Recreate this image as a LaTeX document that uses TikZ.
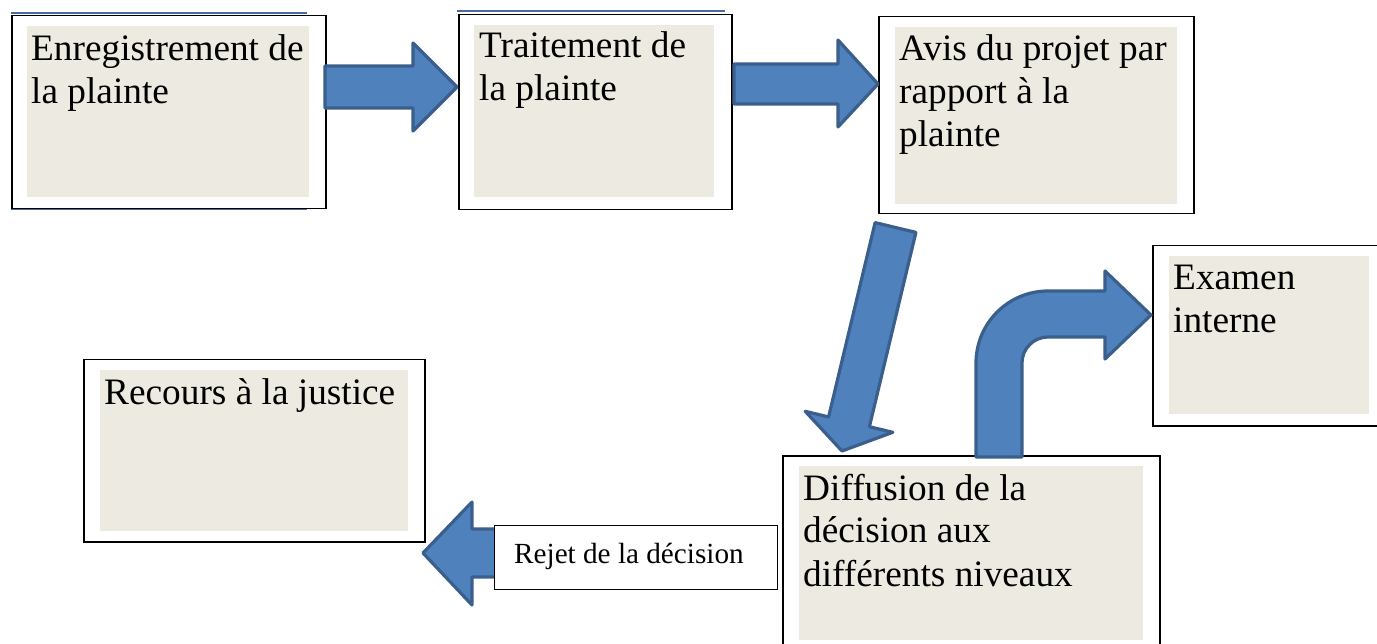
\documentclass[tikz,border=0pt]{standalone}
\usepackage{fontspec}
\setmainfont{Liberation Serif}
\definecolor{arrowfill}{HTML}{4F81BD}
\definecolor{arrowline}{HTML}{3A5F8D}
\definecolor{boxfill}{HTML}{EDEBE1}
\definecolor{edgeblue}{HTML}{4A6B9D}
\tikzset{
  outerbox/.style={draw=black, line width=1.5pt, fill=white, anchor=north west, inner sep=0pt},
  innerbox/.style={fill=boxfill, anchor=north west, inner sep=0pt},
  bigtext/.style={anchor=base west, inner sep=0pt, text width=340pt, align=flush left,
                  font=\fontsize{37.3}{43}\selectfont},
  smalltext/.style={anchor=base west, inner sep=0pt, font=\fontsize{29.2}{34}\selectfont},
  blockarrow/.style={fill=arrowfill, draw=arrowline, line width=3.2pt, line join=round},
  blueedge/.style={draw=edgeblue, line width=2pt}
}
\begin{document}
\begin{tikzpicture}[x=1pt,y=-1pt]
\useasboundingbox (0,0) rectangle (1377,644);
\clip (0,0) rectangle (1377,644);

% Box 1
\draw[blueedge] (11,13.5) -- (307,13.5);
\draw[blueedge] (11,209.5) -- (307,209.5);
\node[outerbox, minimum width=314pt, minimum height=193pt] (b1) at (11,15) {};
\node[innerbox, minimum width=282pt, minimum height=171pt] (b1i) at (27,26) {};
\node[bigtext] (b1t) at (31,61) {Enregistrement de\\la plainte};

% Box 2
\draw[blueedge] (457,11) -- (725,11);
\node[outerbox, minimum width=273pt, minimum height=195pt] (b2) at (458,14) {};
\node[innerbox, minimum width=240pt, minimum height=172pt] (b2i) at (474,25) {};
\node[bigtext] (b2t) at (479,58) {Traitement de\\la plainte};

% Box 3
\node[outerbox, minimum width=315pt, minimum height=197pt] (b3) at (878,16) {};
\node[innerbox, minimum width=282pt, minimum height=177pt] (b3i) at (895,27) {};
\node[bigtext] (b3t) at (899,61) {Avis du projet par\\rapport à la\\plainte};

% Box 4
\node[outerbox, minimum width=240pt, minimum height=180pt] (b4) at (1152,245) {};
\node[innerbox, minimum width=200pt, minimum height=158pt] (b4i) at (1169,256) {};
\node[bigtext] (b4t) at (1173,290) {Examen\\interne};

% Box 5
\node[outerbox, minimum width=377pt, minimum height=200pt] (b5) at (782,455) {};
\node[innerbox, minimum width=344pt, minimum height=174pt] (b5i) at (799,466) {};
\node[bigtext] (b5t) at (803,500) {Diffusion de la\\décision aux\\différents niveaux};

% Box 6
\node[outerbox, minimum width=341pt, minimum height=182pt] (b6) at (83,359) {};
\node[innerbox, minimum width=308pt, minimum height=161pt] (b6i) at (100,370) {};
\node[bigtext] (b6t) at (104,404) {Recours à la justice};

% Arrow 1 : b1 -> b2
\draw[blockarrow] (325,66) -- (413,66) -- (413,43) -- (457,87) -- (413,131) -- (413,108) -- (325,108) -- cycle;
% Arrow 2 : b2 -> b3
\draw[blockarrow] (734,64) -- (838,64) -- (838,40) -- (878,84) -- (838,127) -- (838,104) -- (734,104) -- cycle;
% Arrow 3 : b3 -> b5 (diagonal)
\draw[blockarrow] (875.1,222.6) -- (915.9,232.4) -- (869.4,426.7) -- (892.8,432.3) -- (842,451)
  -- (805.2,411.3) -- (828.6,416.9) -- cycle;
% Arrow 4 : b5 -> b4 (bent)
\draw[blockarrow] (976,457) -- (976,363) arc[start angle=180, end angle=270, radius=72]
  -- (1105,291) -- (1105,271) -- (1151,315) -- (1105,359) -- (1105,337) -- (1048,337)
  arc[start angle=270, end angle=180, radius=26] -- (1022,457) -- cycle;
% Arrow 5 : b5 -> b6 (left)
\draw[blockarrow] (540,529) -- (472,529) -- (472,502) -- (423,553) -- (472,605) -- (472,577) -- (540,577) -- cycle;

% Rejet label box
\node[draw=black, line width=1pt, fill=white, anchor=north west, inner sep=0pt,
      minimum width=283pt, minimum height=64pt] (rej) at (494,525) {};
\node[smalltext] (rejt) at (514,563) {Rejet de la décision};
\end{tikzpicture}
\end{document}
